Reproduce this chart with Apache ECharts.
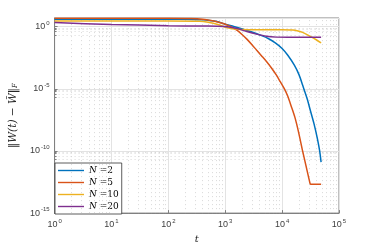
<!DOCTYPE html>
<html><head><meta charset="utf-8">
<script src="https://cdn.jsdelivr.net/npm/echarts@6/dist/echarts.min.js"></script>
<style>html,body{margin:0;padding:0;background:#fff}#c{width:374px;height:249px}</style>
</head><body><div id="c"></div>
<script>
// values stored as log10 exponents
const seriesNames = ['N =2', 'N =5', 'N =10', 'N =20'];
const n2T = [0, 1, 2, 2.4, 2.6, 2.75, 2.87, 3.0, 3.15, 3.3, 3.47, 3.64, 3.755, 3.88, 4.0, 4.1, 4.215, 4.3, 4.36, 4.44, 4.5, 4.56, 4.62, 4.66, 4.685];
const n2V = [0.6, 0.6, 0.6, 0.58, 0.55, 0.48, 0.4, 0.2, 0.02, -0.18, -0.43, -0.72, -0.95, -1.3, -1.75, -2.3, -3.1, -3.9, -4.7, -5.8, -6.8, -7.8, -9.0, -10.0, -10.9];
const n5T = [0, 1, 2, 2.4, 2.6, 2.75, 2.87, 3.0, 3.1, 3.21, 3.3, 3.38, 3.47, 3.55, 3.64, 3.725, 3.81, 3.9, 3.97, 4.04, 4.1, 4.16, 4.225, 4.29, 4.36, 4.4, 4.44, 4.47, 4.49, 4.5, 4.685];
const n5V = [0.68, 0.68, 0.67, 0.65, 0.6, 0.5, 0.37, 0.2, 0.0, -0.3, -0.65, -1.0, -1.45, -1.88, -2.35, -2.8, -3.3, -3.9, -4.45, -5.0, -5.6, -6.4, -7.3, -8.5, -10.0, -10.8, -11.6, -12.2, -12.6, -12.67, -12.67];
const n10T = [0, 1, 2, 2.55, 2.7, 2.87, 3.04, 3.21, 3.5, 4.0, 4.19, 4.28, 4.36, 4.47, 4.6, 4.685];
const n10V = [0.45, 0.45, 0.45, 0.43, 0.35, 0.18, -0.08, -0.21, -0.25, -0.25, -0.27, -0.35, -0.46, -0.72, -1.05, -1.3];
const n20T = [0, 1, 2, 2.6, 2.87, 3.04, 3.21, 3.38, 3.55, 3.725, 3.9, 4.1, 4.685];
const n20V = [0.33, 0.18, 0.08, 0.05, 0.04, 0.0, -0.15, -0.39, -0.6, -0.77, -0.84, -0.85, -0.85];
const xMinorGrid = [2,3,4,5,6,7,8,9,20,30,40,50,60,70,80,90,200,300,400,500,600,700,800,900,2000,3000,4000,5000,6000,7000,8000,9000,20000,30000,40000,50000,60000,70000,80000,90000];
const colors = ['#0072BD', '#D95319', '#EDB120', '#7E2F8E'];

function pairs(T, V) { return T.map((t, i) => [Math.pow(10, t), Math.pow(10, V[i])]); }
const allData = [pairs(n2T, n2V), pairs(n5T, n5V), pairs(n10T, n10V), pairs(n20T, n20V)];

const expLabel = v => { const e = Math.round(Math.log10(v)); return '{b|10}{s|' + e + '}'; };
const labRich = { b: { fontSize: 9, color: '#404040', fontFamily: 'Liberation Sans' }, s: { fontSize: 6, color: '#404040', verticalAlign: 'top', padding: [0, 0, 7, 1], fontFamily: 'Liberation Sans' } };
const minorStyle = { type: [1, 3], color: '#cfcfcf', width: 0.8 };

const chart = echarts.init(document.getElementById('c'), null, { renderer: 'canvas' });
const series = allData.map((d, i) => ({
  name: seriesNames[i], type: 'line', data: d, smooth: 0.25, showSymbol: false, symbol: 'none',
  lineStyle: { width: 1.5, color: colors[i] }, itemStyle: { color: colors[i] }, z: 5, animation: false
}));
series.unshift({
  name: 'grid', type: 'line', data: [[1, 1]], symbol: 'none', lineStyle: { opacity: 0 }, silent: true, z: 1, animation: false,
  markLine: { silent: true, symbol: 'none', label: { show: false }, animation: false,
    lineStyle: minorStyle,
    data: xMinorGrid.map(v => ({ xAxis: v })) }
});
chart.setOption({
  animation: false,
  grid: { left: 48.5, right: 35, top: 18, bottom: 28, show: true, borderColor: '#808080', borderWidth: 1 },
  legend: {
    data: seriesNames, orient: 'vertical', left: 55, top: 163, padding: [3, 3, 3, 3], itemGap: 3,
    itemWidth: 26, itemHeight: 10, icon: 'path://M0,4.3 L26,4.3 L26,5.7 L0,5.7 Z',
    backgroundColor: '#fff', borderColor: '#333', borderWidth: 0.8, borderRadius: 0,
    formatter: n => '{i|N}{t|' + n.slice(1) + '}',
    textStyle: { rich: { i: { fontFamily: 'DejaVu Serif', fontStyle: 'italic', fontSize: 9, color: '#000' }, t: { fontFamily: 'DejaVu Serif', fontSize: 9, color: '#000' } } }
  },
  xAxis: {
    type: 'log', logBase: 10, min: 1, max: 100000,
    name: 't', nameLocation: 'middle', nameGap: 19,
    nameTextStyle: { fontFamily: 'DejaVu Serif', fontStyle: 'italic', fontSize: 10, color: '#262626' },
    axisLine: { lineStyle: { color: '#808080' } },
    axisTick: { inside: true, length: 3, lineStyle: { color: '#808080' } },
    axisLabel: { formatter: expLabel, rich: labRich, margin: 5 },
    splitLine: { show: true, lineStyle: { color: '#e3e3e3', width: 1 } },
    minorTick: { show: false }, minorSplitLine: { show: false }
  },
  yAxis: {
    type: 'log', logBase: 10, min: 1e-15, max: 5, interval: 5,
    name: '{a|‖W(t) − W̃‖}{s|F}', nameLocation: 'middle', nameGap: 31, nameRotate: 90,
    nameTextStyle: { rich: { a: { fontFamily: 'DejaVu Serif', fontStyle: 'italic', fontSize: 10.5, color: '#262626' }, s: { fontFamily: 'DejaVu Serif', fontStyle: 'italic', fontSize: 7, color: '#262626', verticalAlign: 'bottom', padding: [4, 0, 0, 0] } } },
    axisLine: { lineStyle: { color: '#808080' } },
    axisTick: { inside: true, length: 3, lineStyle: { color: '#808080' } },
    axisLabel: { formatter: expLabel, rich: labRich, margin: 5, showMaxLabel: false },
    splitLine: { show: true, lineStyle: { color: '#e3e3e3', width: 1 } },
    minorTick: { show: true, splitNumber: 5, length: 2, lineStyle: { color: '#808080' } },
    minorSplitLine: { show: true, lineStyle: minorStyle }
  },
  series: series
});
</script></body></html>
